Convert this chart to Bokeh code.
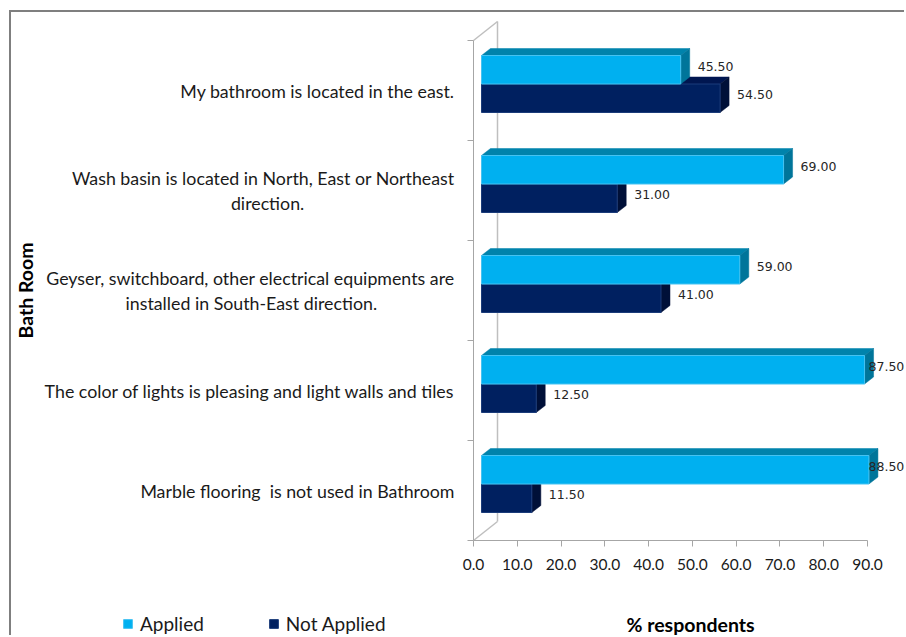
import numpy as np
from bokeh.plotting import figure
from bokeh.models import (Range1d, FixedTicker, Label, Legend, LegendItem,
                          LinearAxis, NumeralTickFormatter)
from bokeh.embed import file_html
from bokeh.resources import INLINE
from bokeh.core.properties import value

# ---------------- data ----------------
categories = [
    "My bathroom is located in the east.",
    "Wash basin is located in North, East or Northeast\ndirection.",
    "Geyser, switchboard, other electrical equipments are\ninstalled in South-East direction.",
    "The color of lights is pleasing and light walls and tiles",
    "Marble flooring  is not used in Bathroom",
]
applied = [45.5, 69.0, 59.0, 87.5, 88.5]
not_applied = [54.5, 31.0, 41.0, 12.5, 11.5]
x_ticks = [0, 10, 20, 30, 40, 50, 60, 70, 80, 90]
series_names = ["Applied", "Not Applied"]
y_title = "Bath Room"
x_title = "% respondents"

# ---------------- styling / geometry ----------------
MARGIN_L, MARGIN_T, BORDER = 9, 10, 2
CW, CH = 906 - MARGIN_L - BORDER, 637 - MARGIN_T - BORDER   # drawing canvas (border is outside)
ORIGIN_X, ORIGIN_Y = 462, 528                   # canvas px of the value/category origin
PX_X = 394 / 90.0                                # px per % unit
PX_Y = 100.0                                     # px per category band
N = len(categories)

SHIFT_X = 8 / PX_X       # bars sit a little behind the front plane
SHIFT_Y = 0.065
DEPTH_X = 9 / PX_X       # bar depth
DEPTH_Y = 0.07
WALL_X = 24 / PX_X       # back wall depth
WALL_Y = 0.19
BAR_H = 0.285
LABEL_GAP = 8 / PX_X                     # gap between bar end and its value label
LABEL_MAX_X = (CW - 38 - ORIGIN_X) / PX_X  # labels are kept inside the chart area

C_APP = ("#00B0F0", "#0083AC", "#00759A", "#45C3F2")
C_NA = ("#002060", "#001650", "#001038", "#1B3C7A")
AXIS_C = "#A6A6A6"
CAT_FONT = "Lato"
CAT_SIZE = 17.8

p = figure(width=CW, height=CH, output_backend="svg", toolbar_location=None,
           x_range=Range1d(-ORIGIN_X / PX_X, (CW - ORIGIN_X) / PX_X),
           y_range=Range1d(-(CH - ORIGIN_Y) / PX_Y, ORIGIN_Y / PX_Y),
           x_axis_location=None, y_axis_location=None,
           min_border=0, min_border_left=0, min_border_right=0,
           min_border_top=0, min_border_bottom=0)
p.styles = {"margin-left": f"{MARGIN_L}px", "margin-top": f"{MARGIN_T}px",
            "border-top": f"{BORDER}px solid #7F7F7F",
            "border-left": f"{BORDER}px solid #7F7F7F"}
p.xgrid.visible = False
p.ygrid.visible = False
p.outline_line_color = None
p.background_fill_color = "white"
p.border_fill_color = "white"

# back wall + perspective edges
p.segment(x0=[WALL_X, 0, 0], y0=[WALL_Y, 0, N], x1=[WALL_X, WALL_X, WALL_X],
          y1=[N + WALL_Y, WALL_Y, N + WALL_Y], line_color="#BFBFBF", line_width=1.5)


def faces(vals, is_applied):
    fx, fy, tx, ty, sx, sy = [], [], [], [], [], []
    for i, v in enumerate(vals):
        k = N - 1 - i
        c = k + 0.5 + SHIFT_Y
        b, t = (c, c + BAR_H) if is_applied else (c - BAR_H, c)
        x0, x1 = SHIFT_X, SHIFT_X + v
        fx.append([x0, x1, x1, x0]); fy.append([b, b, t, t])
        tx.append([x0, x1, x1 + DEPTH_X, x0 + DEPTH_X]); ty.append([t, t, t + DEPTH_Y, t + DEPTH_Y])
        sx.append([x1, x1 + DEPTH_X, x1 + DEPTH_X, x1]); sy.append([b, b + DEPTH_Y, t + DEPTH_Y, t])
    return fx, fy, tx, ty, sx, sy


renderers = {}
for vals, is_app, cols, name in [(not_applied, False, C_NA, series_names[1]),
                                 (applied, True, C_APP, series_names[0])]:
    fx, fy, tx, ty, sx, sy = faces(vals, is_app)
    p.patches(tx, ty, fill_color=cols[1], line_color=cols[1], line_width=0.5)
    p.patches(sx, sy, fill_color=cols[2], line_color=cols[2], line_width=0.5)
    r = p.patches(fx, fy, fill_color=cols[0], line_color=cols[3], line_width=1)
    renderers[name] = r

# data labels
lx, ly, lt = [], [], []
for vals, is_app in [(applied, True), (not_applied, False)]:
    for i, v in enumerate(vals):
        k = N - 1 - i
        c = k + 0.5 + SHIFT_Y
        yc = c + BAR_H / 2 if is_app else c - BAR_H / 2
        lx.append(min(SHIFT_X + v + DEPTH_X + LABEL_GAP, LABEL_MAX_X))
        ly.append(yc + DEPTH_Y / 2)
        lt.append(f"{v:.2f}")
p.text(x=lx, y=ly, text=lt, text_baseline="middle", text_align="left",
       text_font=value("DejaVu Sans"), text_font_size="12.5px", text_color="#262626")


# category labels: centre the second line under the first (axis labels are right-aligned)
def approx_em(s):
    w = 0.0
    for ch in s:
        if ch == " ":
            w += 0.19
        elif ch in "iljtfr.,-'":
            w += 0.30
        elif ch in "mwMW":
            w += 0.90
        elif ch.isupper():
            w += 0.65
        else:
            w += 0.52
    return w


def centred(label, nbsp_em=0.25):
    label = label.replace("  ", " \u00a0")     # keep double spaces visible
    lines = label.split("\n")
    if len(lines) == 1:
        return label
    w = max(approx_em(s) for s in lines)
    out = []
    for s in lines:
        n = int(round((w - approx_em(s)) / 2 / nbsp_em))
        out.append(s + "\u00a0" * n)
    return "\n".join(out)


# left (category) axis, drawn at the value origin
ya = LinearAxis(fixed_location=0)
ya.ticker = FixedTicker(ticks=[k + 0.5 for k in range(N)], minor_ticks=list(range(N + 1)))
ya.major_label_overrides = {k + 0.5: centred(categories[N - 1 - k]) for k in range(N)}
ya.bounds = (0, N)
ya.axis_line_color = AXIS_C
ya.major_tick_line_color = None
ya.major_tick_out = 0
ya.major_tick_in = 0
ya.minor_tick_line_color = AXIS_C
ya.minor_tick_out = 6
ya.minor_tick_in = 0
ya.major_label_standoff = 13
ya.major_label_text_font = CAT_FONT
ya.major_label_text_font_size = f"{CAT_SIZE}px"
ya.major_label_text_color = "#1A1A1A"
ya.major_label_text_line_height = 1.1
ya.axis_label = y_title
ya.axis_label_standoff = 5
ya.axis_label_text_font = CAT_FONT
ya.axis_label_text_font_style = "bold"
ya.axis_label_text_font_size = "19.5px"
ya.axis_label_text_color = "#000000"
p.add_layout(ya, "left")

# bottom (value) axis, drawn at the category origin
xa = LinearAxis(fixed_location=0)
xa.ticker = FixedTicker(ticks=x_ticks, minor_ticks=[])
xa.formatter = NumeralTickFormatter(format="0.0")
xa.bounds = (0, 90)
xa.axis_line_color = AXIS_C
xa.major_tick_line_color = AXIS_C
xa.major_tick_out = 6
xa.major_tick_in = 0
xa.minor_tick_line_color = None
xa.major_label_standoff = 12
xa.major_label_text_font = CAT_FONT
xa.major_label_text_font_size = "15.5px"
xa.major_label_text_color = "#1A1A1A"
p.add_layout(xa, "below")

p.add_layout(Label(x=679, y=13, x_units="screen", y_units="screen",
                   text=x_title, text_align="center", text_baseline="middle",
                   text_font=CAT_FONT, text_font_style="bold",
                   text_font_size="19.5px", text_color="#000000"))

legend = Legend(items=[LegendItem(label=series_names[0], renderers=[renderers[series_names[0]]]),
                       LegendItem(label=series_names[1], renderers=[renderers[series_names[1]]])],
                orientation="horizontal", location=(111, 2),
                glyph_width=11, glyph_height=11, label_standoff=7, spacing=64,
                padding=0, margin=0, border_line_color=None, background_fill_alpha=0,
                label_text_font=CAT_FONT, label_text_font_size="19px",
                label_text_color="#1A1A1A")
p.add_layout(legend)

open("out.html", "w").write(file_html(p, INLINE))
